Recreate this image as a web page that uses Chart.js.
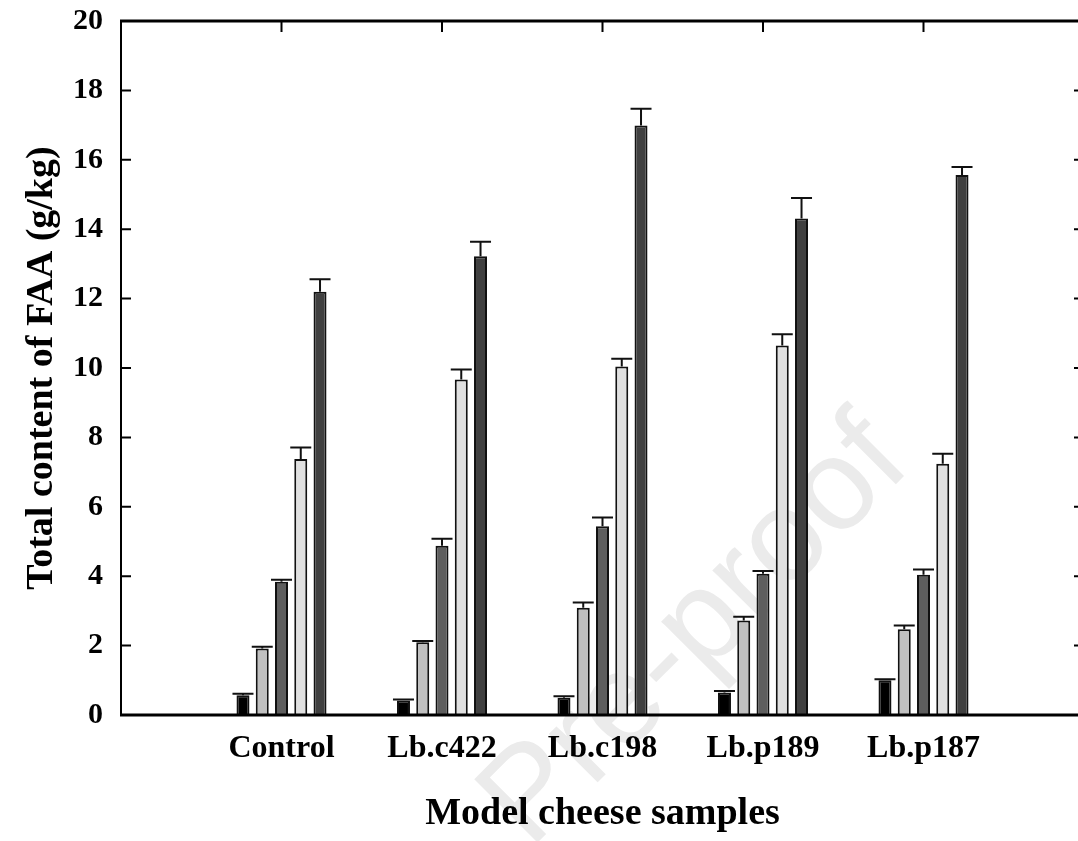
<!DOCTYPE html>
<html>
<head>
<meta charset="utf-8">
<script src="https://cdn.jsdelivr.net/npm/chart.js@4.4.1/dist/chart.umd.min.js"></script>
<style>
  html, body { margin: 0; padding: 0; background: #fff; overflow: hidden; }
  #wrap { width: 1085px; height: 841px; }
</style>
</head>
<body>
<div id="wrap"><canvas id="faaChart"></canvas></div>
<script>
// empty slots at both ends keep the groups off the frame, as in the original
const samples = ['', 'Control', 'Lb.c422', 'Lb.c198', 'Lb.p189', 'Lb.p187', ''];
const yTickValues = [0, 2, 4, 6, 8, 10, 12, 14, 16, 18, 20];

// bar heights (g/kg), one array per bar shade, in sample order
const series1 = [0.57, 0.42, 0.50, 0.65, 1.00];
const series2 = [1.92, 2.10, 3.09, 2.72, 2.47];
const series3 = [3.84, 4.88, 5.44, 4.07, 4.04];
const series4 = [7.38, 9.67, 10.04, 10.65, 7.24];
const series5 = [12.20, 13.22, 16.99, 14.31, 15.56];

// upper error bars
const error1 = [0.04, 0.03, 0.04, 0.04, 0.03];
const error2 = [0.05, 0.03, 0.15, 0.11, 0.11];
const error3 = [0.06, 0.20, 0.25, 0.08, 0.15];
const error4 = [0.33, 0.29, 0.23, 0.32, 0.29];
const error5 = [0.36, 0.42, 0.48, 0.59, 0.23];

const seriesNames = ['Series 1', 'Series 2', 'Series 3', 'Series 4', 'Series 5'];
const barColors = ['#000000', '#c0c0c0', '#5e5e5e', '#e0e0e0', '#404040'];

const pad = arr => [null, ...arr, null];
const allSeries = [series1, series2, series3, series4, series5];
const allErrors = [error1, error2, error3, error4, error5];

const serif = "'Liberation Serif', 'Times New Roman', serif";

const watermark = {
  id: 'watermark',
  beforeDraw(chart) {
    const ctx = chart.ctx;
    ctx.save();
    ctx.fillStyle = '#fff';
    ctx.fillRect(0, 0, chart.width, chart.height);
    ctx.translate(530, 850);
    ctx.rotate(-45 * Math.PI / 180);
    ctx.font = "130px 'Liberation Sans', Arial, sans-serif";
    ctx.fillStyle = '#ebebeb';
    ctx.textBaseline = 'alphabetic';
    ctx.fillText('Pre-proof', 0, 0);
    ctx.restore();
  }
};

// inward tick marks on all four sides
const innerTicks = {
  id: 'innerTicks',
  beforeDatasetsDraw(chart) {
    const {ctx, chartArea: a, scales: {x, y}} = chart;
    ctx.save();
    ctx.strokeStyle = '#000';
    ctx.lineWidth = 2;
    ctx.beginPath();
    yTickValues.forEach(v => {
      const py = y.getPixelForValue(v);
      ctx.moveTo(a.left, py); ctx.lineTo(a.left + 10, py);
      ctx.moveTo(a.right, py); ctx.lineTo(a.right - 10, py);
    });
    samples.forEach((s, i) => {
      if (!s) return;
      const px = x.getPixelForValue(i);
      ctx.moveTo(px, a.top); ctx.lineTo(px, a.top + 11);
      ctx.moveTo(px, a.bottom); ctx.lineTo(px, a.bottom - 11);
    });
    ctx.stroke();
    ctx.restore();
  }
};

const frameAndErrors = {
  id: 'frameAndErrors',
  afterDatasetsDraw(chart) {
    const {ctx, chartArea: a, scales: {y}} = chart;
    ctx.save();
    ctx.strokeStyle = '#111';
    ctx.lineWidth = 2;
    chart.data.datasets.forEach((ds, i) => {
      const meta = chart.getDatasetMeta(i);
      meta.data.forEach((bar, j) => {
        const v = ds.data[j];
        if (v == null) return;
        const yBar = y.getPixelForValue(v);
        const yErr = y.getPixelForValue(v + allErrors[i][j - 1]);
        ctx.beginPath();
        ctx.moveTo(bar.x, yBar);
        ctx.lineTo(bar.x, yErr);
        ctx.moveTo(bar.x - 10.5, yErr);
        ctx.lineTo(bar.x + 10.5, yErr);
        ctx.stroke();
      });
    });
    ctx.strokeStyle = '#000';
    ctx.lineWidth = 2;
    ctx.beginPath();
    ctx.moveTo(a.left, a.top); ctx.lineTo(a.left, a.bottom);
    ctx.moveTo(a.right, a.top); ctx.lineTo(a.right, a.bottom);
    ctx.stroke();
    ctx.lineWidth = 3;
    ctx.beginPath();
    ctx.moveTo(a.left - 1, a.top); ctx.lineTo(a.right + 1, a.top);
    ctx.moveTo(a.left - 1, a.bottom); ctx.lineTo(a.right + 1, a.bottom);
    ctx.stroke();
    ctx.restore();
  }
};

new Chart(document.getElementById('faaChart'), {
  type: 'bar',
  data: {
    labels: samples,
    datasets: allSeries.map((s, i) => ({
      label: seriesNames[i],
      data: pad(s),
      backgroundColor: barColors[i],
      borderColor: '#111',
      borderWidth: 2,
      borderSkipped: 'bottom',
      categoryPercentage: 0.6,
      barPercentage: 0.675
    }))
  },
  options: {
    responsive: true,
    maintainAspectRatio: false,
    animation: false,
    layout: { padding: { top: 21, right: 1, bottom: 0, left: 0 } },
    plugins: {
      legend: { display: false },
      tooltip: { enabled: false }
    },
    scales: {
      x: {
        offset: false,
        grid: { display: false, drawTicks: false },
        border: { display: false },
        ticks: {
          autoSkip: false,
          maxRotation: 0,
          padding: 15,
          color: '#000',
          font: { family: serif, size: 32, weight: 'bold' }
        },
        title: {
          display: true,
          text: 'Model cheese samples',
          color: '#000',
          font: { family: serif, size: 38, weight: 'bold' },
          padding: { top: 0, bottom: 4 }
        },
        afterFit(scale) {
          scale.height = 126;
          scale.paddingLeft = 0;
          scale.paddingRight = 0;
        }
      },
      y: {
        min: 0,
        max: 20,
        grid: { display: false, drawTicks: false },
        border: { display: false },
        ticks: {
          stepSize: 2,
          padding: 18,
          color: '#000',
          font: { family: serif, size: 30, weight: 'bold' }
        },
        title: {
          display: true,
          text: 'Total content of FAA (g/kg)',
          color: '#000',
          font: { family: serif, size: 38, weight: 'bold' },
          padding: { top: 19, bottom: 0 }
        },
        afterFit(scale) {
          scale.width = 121;
          scale.paddingTop = 0;
          scale.paddingBottom = 0;
        }
      }
    }
  },
  plugins: [watermark, innerTicks, frameAndErrors]
});
</script>
</body>
</html>
